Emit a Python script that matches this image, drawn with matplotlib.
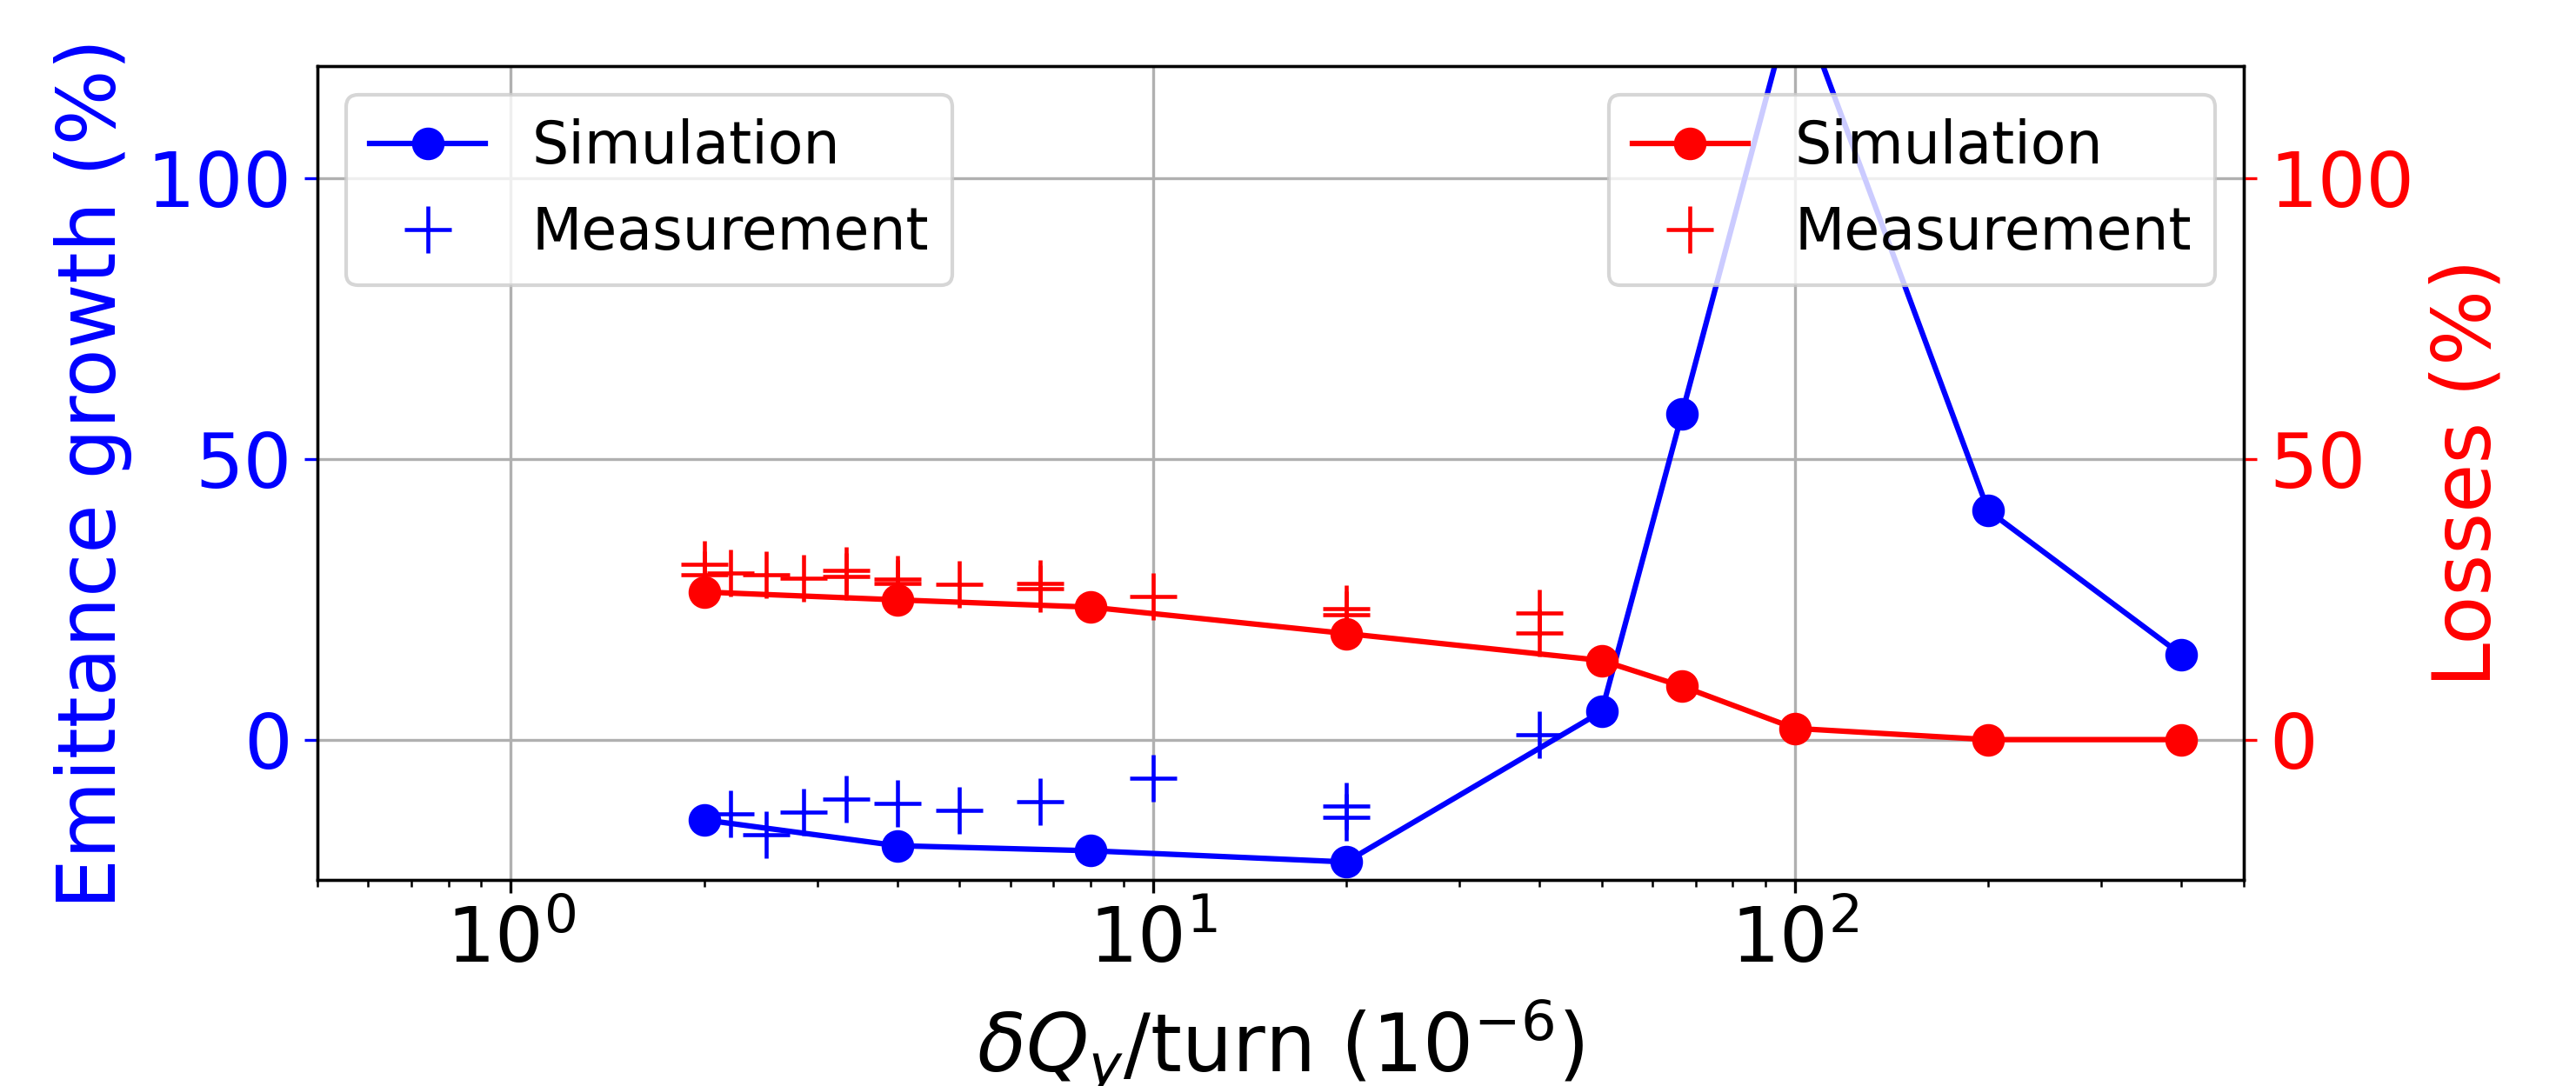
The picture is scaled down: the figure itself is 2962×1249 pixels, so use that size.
import matplotlib
matplotlib.use("Agg")
import matplotlib.pyplot as plt

# Simulation (shared x)
sim_x = [2, 4, 8, 20, 50, 66.7, 100, 200, 400]
sim_emit = [-14.3, -18.9, -19.8, -21.8, 5.0, 58.1, 133.5, 40.8, 15.1]
sim_loss = [26.3, 24.9, 23.6, 18.9, 14.1, 9.5, 2.0, 0.0, 0.0]

# Measurements
meas_emit_x = [2.2, 2.5, 2.86, 3.33, 4, 5, 6.67, 10, 20, 20, 40]
meas_emit = [-13.2, -16.9, -12.9, -10.6, -11.4, -12.6, -11.0, -6.9, -11.8, -13.8, 0.9]
meas_loss_x = [2, 2, 2.2, 2.5, 2.86, 3.33, 3.33, 4, 4, 5, 6.67, 6.67, 10, 20, 20, 40, 40]
meas_loss = [31.2, 29.4, 29.7, 29.3, 28.7, 30.1, 29.0, 28.6, 27.9, 27.6, 27.9, 26.9, 25.5, 23.4, 22.3, 22.6, 19.0]

xticks = [1, 10, 100]
yticks = [0, 50, 100]

fig = plt.figure(figsize=(2962 / 300, 1249 / 300), dpi=300)
ax = fig.add_axes([365 / 2962, 1 - 1012 / 1249, (2580 - 365) / 2962, (1012 - 76) / 1249])
ax.set_xscale("log")
ax.plot(sim_x, sim_emit, "-o", color="blue", lw=1.5, ms=8, label="Simulation")
ax.plot(meas_emit_x, meas_emit, "+", color="blue", ms=13, mew=1.1, label="Measurement")
ax.set_xlim(0.5, 500)
ax.set_ylim(-25, 120)
ax.set_xticks(xticks)
ax.set_yticks(yticks)
ax.grid(True, which="major")
ax.tick_params(axis="both", labelsize=21)
ax.tick_params(axis="y", colors="blue")
ax.set_ylabel("Emittance growth (%)", color="blue", fontsize=22)
ax.set_xlabel(r"$\delta Q_y$/turn ($10^{-6}$)", fontsize=22, labelpad=5)
ax.legend(loc="upper left", fontsize=16)

ax2 = ax.twinx()
ax2.plot(sim_x, sim_loss, "-o", color="red", lw=1.5, ms=8, label="Simulation")
ax2.plot(meas_loss_x, meas_loss, "+", color="red", ms=13, mew=1.1, label="Measurement")
ax2.set_ylim(-25, 120)
ax2.set_yticks(yticks)
ax2.tick_params(axis="y", colors="red", labelsize=21)
ax2.set_ylabel("Losses (%)", color="red", fontsize=22)
ax2.legend(loc="upper right", fontsize=16)

fig.savefig("out.png", dpi=300)
